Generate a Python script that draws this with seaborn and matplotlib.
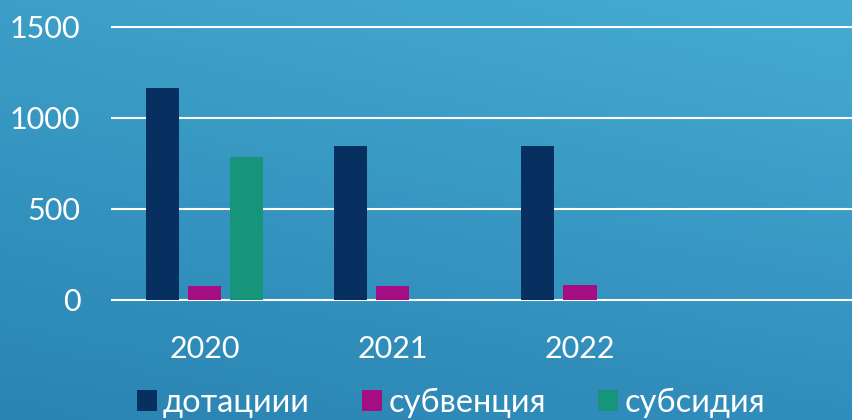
import numpy as np
import pandas as pd
import matplotlib
matplotlib.use("Agg")
import matplotlib.pyplot as plt
import seaborn as sns

years = ["2020", "2021", "2022"]
dotacii = [1165, 846, 846]
subvencia = [77, 77, 80]
subsidia = [786, None, None]
series_names = ["дотациии", "субвенция", "субсидия"]
colors = ["#073060", "#a50e82", "#16957a"]

rows = []
for name, vals in zip(series_names, [dotacii, subvencia, subsidia]):
    for y, v in zip(years, vals):
        if v is not None:
            rows.append({"year": y, "series": name, "value": v})
df = pd.DataFrame(rows)

sns.set_style("white")
plt.rcParams["font.family"] = ["Lato", "DejaVu Sans"]

fig = plt.figure(figsize=(8.52, 4.2), dpi=100)

# gradient background
bg = fig.add_axes([0, 0, 1, 1], zorder=-1)
tl = np.array([0x3c, 0x9f, 0xc8]) / 255
tr = np.array([0x46, 0xac, 0xd2]) / 255
bl = np.array([0x2a, 0x84, 0xb2]) / 255
br = np.array([0x31, 0x8e, 0xbc]) / 255
u = np.linspace(0, 1, 200)[None, :, None]
v = np.linspace(0, 1, 100)[:, None, None]
grad = (1 - v) * ((1 - u) * tl + u * tr) + v * ((1 - u) * bl + u * br)
bg.imshow(grad, aspect="auto", extent=[0, 1, 0, 1])
bg.axis("off")

ax = fig.add_axes([111 / 852, 118.2 / 420, 741 / 852, 0.663])
ax.patch.set_alpha(0)
sns.barplot(data=df, x="year", y="value", hue="series", order=years,
            hue_order=series_names, palette=colors, width=0.672, gap=0.214,
            errorbar=None, saturation=1, linewidth=0, ax=ax, legend=True)

ax.set_xlim(-0.5, 3.45)
ax.set_ylim(-10, 1520)
ax.set_yticks([0, 500, 1000, 1500])
ax.yaxis.grid(True, color="white", linewidth=1.5)
ax.set_axisbelow(True)
for s in ax.spines.values():
    s.set_visible(False)
ax.set_xlabel("")
ax.set_ylabel("")
ax.tick_params(axis="both", length=0, colors="white", labelsize=22)
ax.tick_params(axis="y", pad=22)
ax.tick_params(axis="x", pad=24)

handles, labels = ax.get_legend_handles_labels()
ax.legend_.remove()
leg = fig.legend(handles, labels, loc="center", bbox_to_anchor=(451 / 852, 17 / 420),
                 ncol=3, frameon=False, handlelength=0.6, handleheight=0.6,
                 handletextpad=0.2, columnspacing=1.6,
                 prop={"size": 23.5})
for t in leg.get_texts():
    t.set_color("white")

fig.savefig("out.png", dpi=100)
